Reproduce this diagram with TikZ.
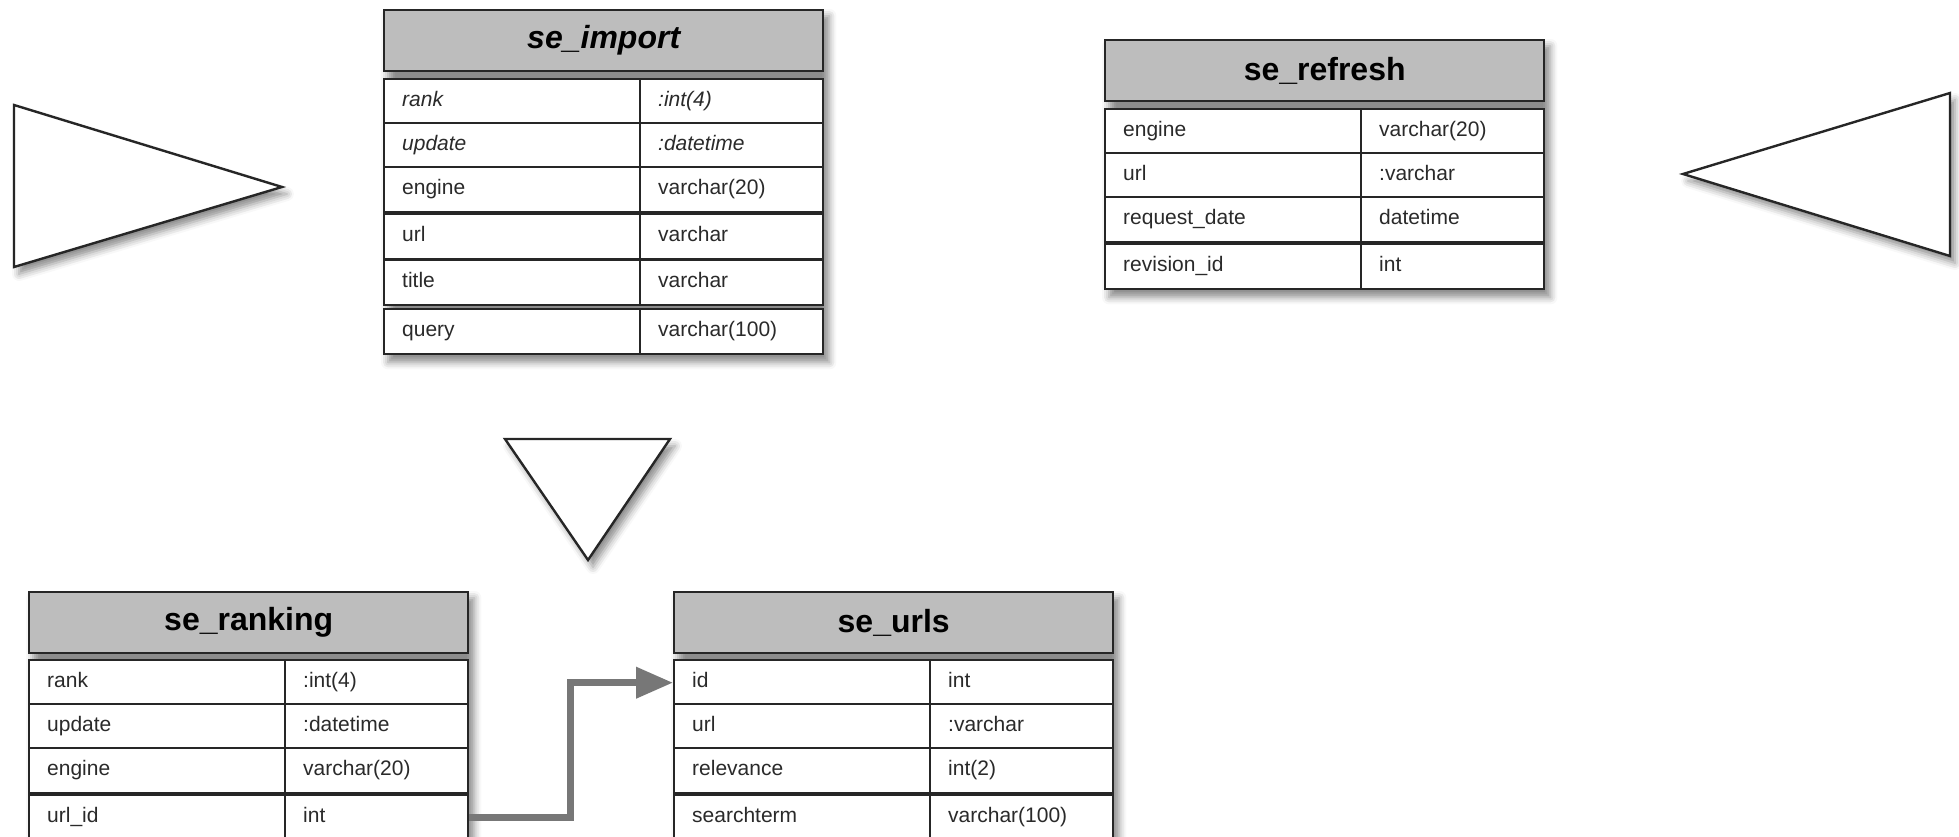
\documentclass[tikz,border=0pt]{standalone}
\usepackage{fontspec}
\setmainfont{Liberation Sans}
\usetikzlibrary{arrows.meta,backgrounds,shadows.blur}
\definecolor{headgray}{HTML}{BDBDBD}
\definecolor{linkgray}{HTML}{777777}
\definecolor{celltext}{HTML}{2A2A2A}

\begin{document}
\begin{tikzpicture}[x=1pt,y=-1pt,
  every node/.style={inner sep=0pt},
  tabhead/.style={draw=black!85, fill=headgray, line width=2.4pt, anchor=north west,
    minimum width=439pt, minimum height=61pt, font=\fontsize{32}{36}\selectfont\bfseries},
  keycell/.style={draw=black!85, fill=white, line width=2.4pt, anchor=north west,
    minimum height=45pt, text width=220pt, inner xsep=18pt, align=left,
    text height=15pt, text depth=5pt, font=\fontsize{21}{24}\selectfont, text=celltext},
  typecell/.style={keycell, text width=147pt},
  tshadow/.style={blur shadow={shadow xshift=5pt, shadow yshift=-7pt, shadow blur radius=7pt, shadow opacity=45}},
  tri/.style={draw=black!85, fill=white, line width=2.4pt, line join=miter, tshadow},
  link/.style={draw=linkgray, line width=7pt, -{Triangle[length=37pt,width=30pt]}}]
\useasboundingbox (0,0) rectangle (1959,837);
\clip (0,0) rectangle (1959,837);

% triangles
\draw[tri] (14,105) -- (282,187) -- (14,267) -- cycle;
\draw[tri] (1950,93) -- (1683,174) -- (1950,256) -- cycle;
\draw[tri] (505,439) -- (670,439) -- (588,560) -- cycle;

% se_import
\node[tabhead] (imp-h) at (383,9) {\itshape se\_import};
\node[keycell] (imp-1a) at (383,78) {\itshape rank};
\node[typecell] (imp-1b) at (639,78) {\itshape :int(4)};
\node[keycell] (imp-2a) at (383,122) {\itshape update};
\node[typecell] (imp-2b) at (639,122) {\itshape :datetime};
\node[keycell] (imp-3a) at (383,166) {engine};
\node[typecell] (imp-3b) at (639,166) {varchar(20)};
\node[keycell] (imp-4a) at (383,213) {url};
\node[typecell] (imp-4b) at (639,213) {varchar};
\node[keycell] (imp-5a) at (383,259) {title};
\node[typecell] (imp-5b) at (639,259) {varchar};
\node[keycell] (imp-6a) at (383,308) {query};
\node[typecell] (imp-6b) at (639,308) {varchar(100)};

% se_refresh
\node[tabhead] (ref-h) at (1104,39) {se\_refresh};
\node[keycell] (ref-1a) at (1104,108) {engine};
\node[typecell] (ref-1b) at (1360,108) {varchar(20)};
\node[keycell] (ref-2a) at (1104,152) {url};
\node[typecell] (ref-2b) at (1360,152) {:varchar};
\node[keycell] (ref-3a) at (1104,196) {request\_date};
\node[typecell] (ref-3b) at (1360,196) {datetime};
\node[keycell] (ref-4a) at (1104,243) {revision\_id};
\node[typecell] (ref-4b) at (1360,243) {int};

% se_ranking
\node[tabhead] (rnk-h) at (28,591) {se\_ranking};
\node[keycell] (rnk-1a) at (28,659) {rank};
\node[typecell] (rnk-1b) at (284,659) {:int(4)};
\node[keycell] (rnk-2a) at (28,703) {update};
\node[typecell] (rnk-2b) at (284,703) {:datetime};
\node[keycell] (rnk-3a) at (28,747) {engine};
\node[typecell] (rnk-3b) at (284,747) {varchar(20)};
\node[keycell] (rnk-4a) at (28,794) {url\_id};
\node[typecell] (rnk-4b) at (284,794) {int};

% se_urls
\node[tabhead] (url-h) at (673,591) {se\_urls};
\node[keycell] (url-1a) at (673,659) {id};
\node[typecell] (url-1b) at (929,659) {int};
\node[keycell] (url-2a) at (673,703) {url};
\node[typecell] (url-2b) at (929,703) {:varchar};
\node[keycell] (url-3a) at (673,747) {relevance};
\node[typecell] (url-3b) at (929,747) {int(2)};
\node[keycell] (url-4a) at (673,794) {searchterm};
\node[typecell] (url-4b) at (929,794) {varchar(100)};

% shadows behind the tables
\begin{scope}[on background layer]
\path[tshadow] (imp-h.north west) rectangle (imp-6b.south east);
\path[tshadow] (ref-h.north west) rectangle (ref-4b.south east);
\path[tshadow] (rnk-h.north west) rectangle (rnk-4b.south east);
\path[tshadow] (url-h.north west) rectangle (url-4b.south east);
\end{scope}

% url_id -> id
\draw[link] (rnk-4b.east) -- ++(101,0) |- (url-1a.west);
\end{tikzpicture}
\end{document}
